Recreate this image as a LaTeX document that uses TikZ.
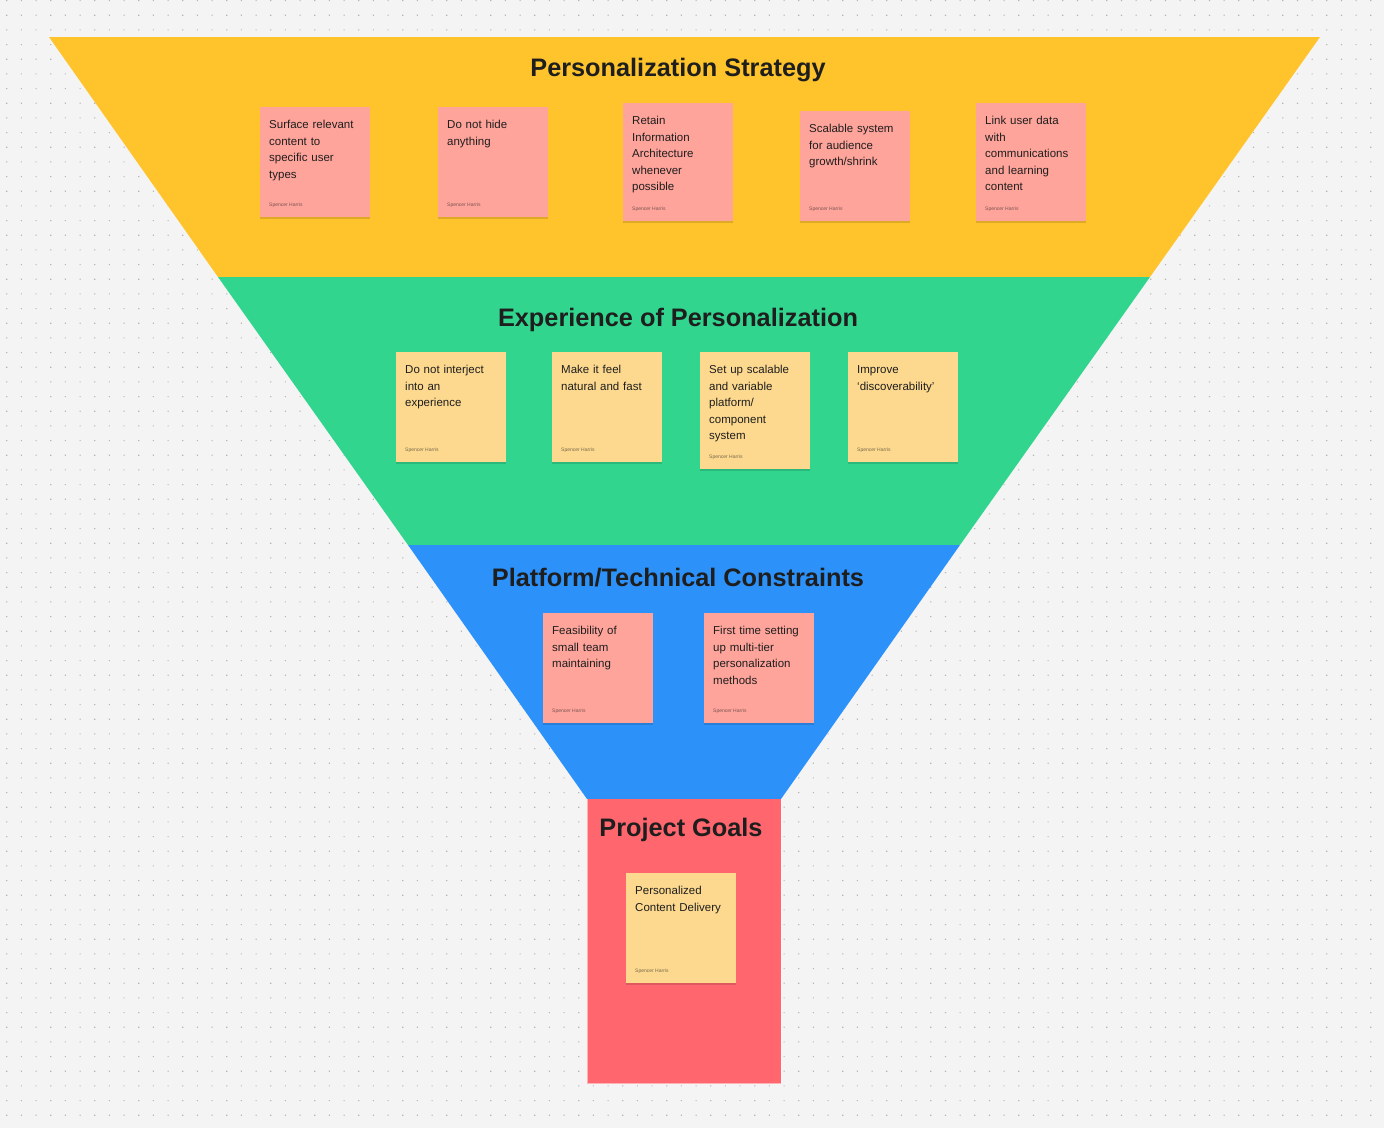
\documentclass[tikz,border=0pt]{standalone}
\usepackage{fontspec}
\setmainfont{Liberation Sans}
\usetikzlibrary{shadows}
\definecolor{bgc}{HTML}{F4F4F4}
\definecolor{dotc}{HTML}{B4B4B4}
\definecolor{ycol}{HTML}{FFC42C}
\definecolor{gcol}{HTML}{32D58E}
\definecolor{bcol}{HTML}{2D91FA}
\definecolor{rcol}{HTML}{FF666E}
\definecolor{pinkst}{HTML}{FFA49B}
\definecolor{yelst}{HTML}{FDD98F}
\definecolor{inkc}{HTML}{1E1E1E}
\tikzset{
  stickybox/.style={rectangle, inner sep=0pt, minimum width=110pt, draw=none,
    drop shadow={shadow xshift=0pt, shadow yshift=-1.3pt, opacity=0.13, fill=black}},
  stickytext/.style={inner sep=0pt, text width=104pt, align=left, text=inkc,
    font=\fontsize{11.5}{16.6}\selectfont},
  authortext/.style={inner sep=0pt, text=inkc, text opacity=0.6,
    font=\fontsize{5}{6}\selectfont},
  titletext/.style={inner sep=0pt, text=inkc, font=\bfseries\fontsize{25.3}{30}\selectfont},
}
\newcommand\mysticky[6]{%
  \node[stickybox, fill=#5, minimum height=#4pt, anchor=north west] (#1) at (#2,#3) {};
  \node[stickytext, anchor=north west] (#1t) at ([shift={(9,9.7)}]#1.north west) {\strut #6};
  \node[authortext, anchor=base west] (#1a) at ([shift={(9,-11)}]#1.south west) {Spencer Harris};
}
\begin{document}
\begin{tikzpicture}[x=1pt,y=-1pt]
\fill[bgc] (0,0) rectangle (1384,1128);
\useasboundingbox (0,0) rectangle (1384,1128);
% dot grid
\foreach \j in {0,...,77} {
  \fill[dotc] \foreach \i in {0,...,94} {(6.2+14.667*\i,14.667*\j) rectangle ++(1.1,1.1)};
}
% funnel
\fill[ycol] (49,37) -- (1320,37) -- (1150,277) -- (218,277) -- cycle;
\fill[gcol] (218,277) -- (1150,277) -- (960,545) -- (408,545) -- cycle;
\fill[bcol] (408,545) -- (960,545) -- (781,799) -- (587,799) -- cycle;
\fill[rcol] (587,799) rectangle (781,1083.5);
\draw[white, opacity=0.5, line width=0.8pt] (587,799) -- (587,1083.5) -- (781,1083.5) -- (781,799);
% titles
\node[titletext, anchor=base] (t1) at (678,76) {Personalization Strategy};
\node[titletext, anchor=base] (t2) at (678,326.5) {Experience of Personalization};
\node[titletext, anchor=base] (t3) at (678,586.5) {Platform/Technical Constraints};
\node[titletext, anchor=base] (t4) at (681,836) {Project Goals};
% stickies: strategy
\mysticky{s1}{260}{107}{110}{pinkst}{Surface relevant\\content to\\specific user\\types}
\mysticky{s2}{438}{107}{110}{pinkst}{Do not hide\\anything}
\mysticky{s3}{623}{103}{118}{pinkst}{Retain\\Information\\Architecture\\whenever\\possible}
\mysticky{s4}{800}{111}{110}{pinkst}{Scalable system\\for audience\\growth/shrink}
\mysticky{s5}{976}{103}{118}{pinkst}{Link user data\\with\\communications\\and learning\\content}
% experience
\mysticky{g1}{396}{352}{110}{yelst}{Do not interject\\into an\\experience}
\mysticky{g2}{552}{352}{110}{yelst}{Make it feel\\natural and fast}
\mysticky{g3}{700}{352}{117}{yelst}{Set up scalable\\and variable\\platform/\\component\\system}
\mysticky{g4}{848}{352}{110}{yelst}{Improve\\‘discoverability’}
% constraints
\mysticky{b1}{543}{613}{110}{pinkst}{Feasibility of\\small team\\maintaining}
\mysticky{b2}{704}{613}{110}{pinkst}{First time setting\\up multi-tier\\personalization\\methods}
% goals
\mysticky{r1}{626}{873}{110}{yelst}{Personalized\\Content Delivery}
\end{tikzpicture}
\end{document}
